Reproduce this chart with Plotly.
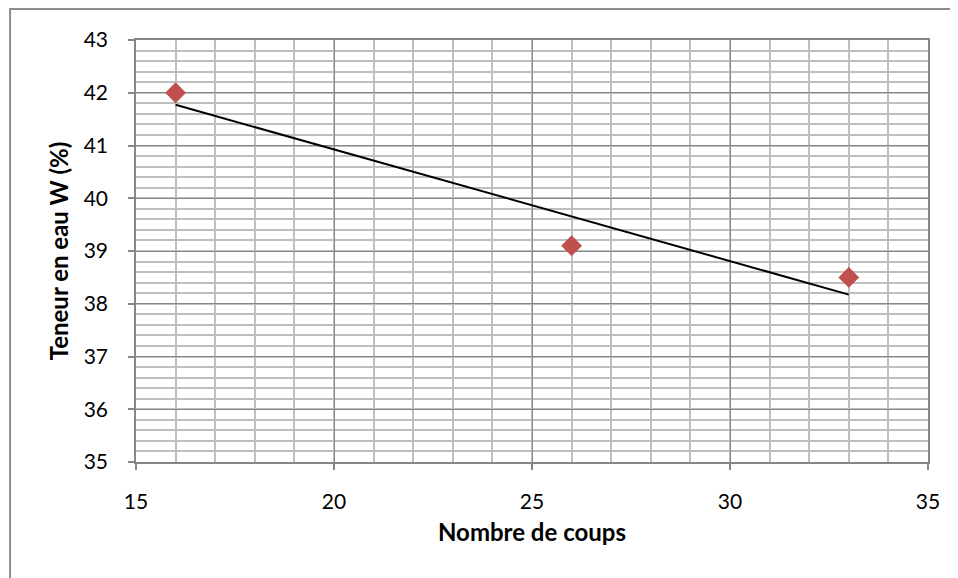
import numpy as np
import plotly.graph_objects as go

coups = [16, 26, 33]
teneur = [42.0, 39.1, 38.5]
x_ticks = [15, 20, 25, 30, 35]
y_ticks = [35, 36, 37, 38, 39, 40, 41, 42, 43]

slope, intercept = np.polyfit(coups, teneur, 1)
trend_x = [min(coups), max(coups)]
trend_y = [slope * v + intercept for v in trend_x]

fig = go.Figure()
fig.add_trace(go.Scatter(x=trend_x, y=trend_y, mode="lines",
                         line=dict(color="black", width=2), showlegend=False))
fig.add_trace(go.Scatter(x=coups, y=teneur, mode="markers",
                         marker=dict(symbol="diamond", size=16, color="#C0504D",
                                     line=dict(width=0)), showlegend=False))

font_family = "Lato, Open Sans, sans-serif"
fig.update_layout(
    width=950, height=570,
    margin=dict(l=128, r=30, t=32, b=116),
    paper_bgcolor="white", plot_bgcolor="white",
    font=dict(family=font_family, color="black", size=21),
    xaxis=dict(range=[15, 35], tickvals=x_ticks, showgrid=True,
               gridcolor="#868686", gridwidth=1.3,
               minor=dict(dtick=1, showgrid=True, gridcolor="#BFBFBF", gridwidth=1.5),
               showline=True, linecolor="#868686", linewidth=1.5, mirror=True,
               ticks="outside", ticklen=6, tickcolor="#868686", tickwidth=1.5,
               ticklabelstandoff=14,
               zeroline=False,
               title=dict(text="<b>Nombre de coups</b>", standoff=12,
                          font=dict(size=24)),
               tickfont=dict(size=21)),
    yaxis=dict(range=[35, 43], tickvals=y_ticks, showgrid=True,
               gridcolor="#868686", gridwidth=1.3,
               minor=dict(dtick=0.2, showgrid=True, gridcolor="#BFBFBF", gridwidth=1.5),
               showline=True, linecolor="#868686", linewidth=1.5, mirror=True,
               ticks="outside", ticklen=6, tickcolor="#868686", tickwidth=1.5,
               ticklabelstandoff=16,
               zeroline=False,
               title=dict(text="<b>Teneur en eau W (%)</b>", standoff=8,
                          font=dict(size=24)),
               tickfont=dict(size=21)),
)
fig.add_shape(type="rect", xref="paper", yref="paper",
              x0=-0.159, x1=1.05, y0=-0.3, y1=1.0735,
              line=dict(color="#8C8C8C", width=2), layer="below")

fig.write_html("out.html")
